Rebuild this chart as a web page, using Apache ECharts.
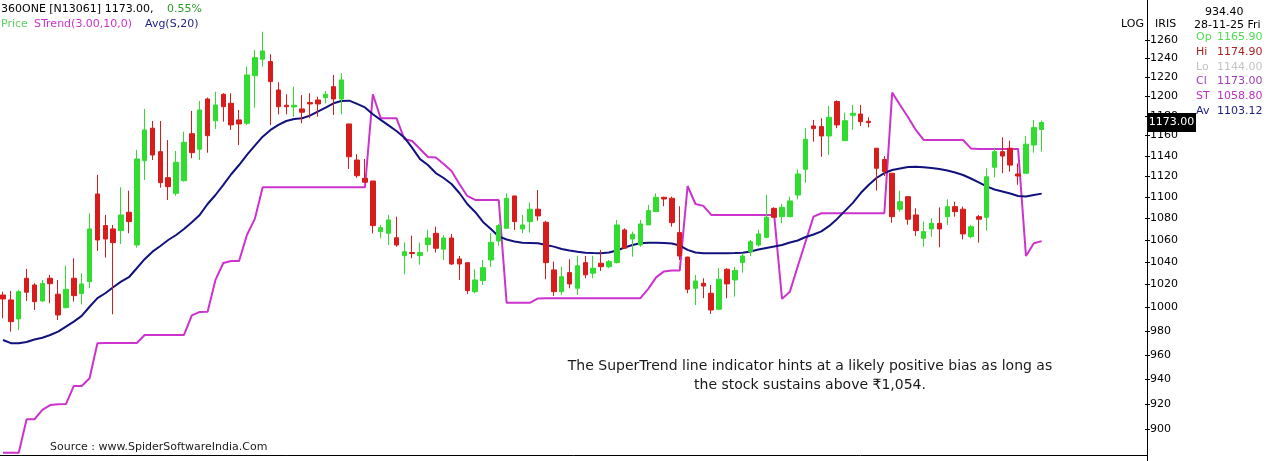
<!DOCTYPE html>
<html><head><meta charset="utf-8">
<script src="https://cdn.jsdelivr.net/npm/echarts@6/dist/echarts.min.js"></script>
<style>html,body{margin:0;padding:0;background:#fff}#c{width:1266px;height:461px}</style>
</head><body><div id="c"></div>
<script>
// ---- data ----
const opens = [1010.7,1006.4,990.0,1025.4,1019.5,1005.5,1025.4,1011.4,999.7,1025.4,
1011.9,1022.4,1102.8,1073.1,1070.0,1068.4,1085.5,1055.3,1134.9,1167.2,
1143.8,1118.4,1103.4,1115.5,1161.7,1146.2,1197.0,1174.8,1201.9,1192.6,
1175.6,1172.2,1221.4,1238.8,1236.3,1206.4,1190.6,1188.8,1186.8,1193.3,
1196.0,1198.4,1209.8,1197.0,1171.5,1135.6,1117.8,1115.2,1067.5,1066.0,
1061.9,1045.6,1048.4,1045.6,1055.6,1066.0,1051.5,1061.7,1042.6,1039.3,
1013.6,1023.3,1041.7,1058.9,1070.6,1100.9,1070.0,1076.8,1088.4,1076.2,
1032.8,1013.6,1030.4,1016.6,1039.3,1029.9,1038.8,1035.7,1039.3,1069.1,
1060.7,1055.3,1073.7,1086.1,1099.6,1098.7,1066.6,1044.3,1016.6,1021.0,
1012.2,998.3,1033.4,1023.9,1039.3,1049.2,1055.3,1062.3,1089.2,1081.4,
1081.4,1101.8,1126.5,1169.5,1168.8,1159.4,1194.3,1154.7,1180.3,1181.6,
1174.2,1147.2,1136.1,1122.7,1088.3,1100.2,1083.0,1061.4,1070.0,1075.2,
1081.4,1090.8,1088.4,1062.9,1081.4,1080.8,1128.5,1143.8,1147.2,1122.0,
1122.7,1150.4,1165.9];
const closes = [1007.2,987.7,1013.6,1013.1,1004.9,1020.9,1020.6,993.4,1015.7,1010.1,
1020.4,1070.0,1059.8,1060.7,1057.4,1083.0,1076.8,1136.6,1165.5,1140.5,
1113.6,1109.8,1133.4,1153.1,1142.8,1185.7,1159.7,1190.9,1189.1,1170.5,
1171.5,1222.1,1240.5,1247.7,1215.1,1189.1,1189.1,1190.6,1183.4,1191.9,
1191.9,1201.9,1197.0,1216.9,1138.8,1120.3,1114.0,1073.1,1071.2,1078.3,
1055.3,1049.2,1047.5,1048.4,1061.7,1052.3,1061.7,1038.1,1038.1,1014.5,
1023.9,1034.8,1057.7,1073.1,1098.7,1076.8,1073.7,1088.4,1082.1,1039.3,
1013.6,1026.8,1020.4,1036.5,1028.4,1034.3,1035.7,1040.2,1073.7,1052.3,
1065.1,1074.6,1087.0,1099.6,1098.0,1075.8,1045.3,1015.7,1023.0,1018.5,
997.7,1024.5,1020.4,1032.2,1045.3,1058.3,1065.4,1080.8,1080.8,1090.1,
1096.2,1122.0,1156.1,1166.8,1159.4,1178.3,1170.5,1174.8,1182.4,1173.8,
1172.8,1127.5,1124.2,1081.4,1095.5,1079.0,1068.4,1067.5,1075.2,1070.0,
1090.8,1086.1,1065.4,1072.1,1079.0,1119.3,1143.8,1139.5,1130.6,1120.0,
1151.2,1167.8,1173.0];
const lows = [990.6,979.2,980.6,1005.5,997.7,1004.9,1003.5,989.1,999.1,1004.9,
1002.6,1016.6,1049.9,1043.8,994.0,1056.2,1066.0,1052.9,1116.2,1135.6,
1108.8,1097.1,1101.1,1114.6,1137.3,1135.6,1142.8,1166.5,1173.8,1165.5,
1150.4,1170.5,1188.1,1230.7,1170.5,1181.3,1181.3,1178.9,1172.2,1177.3,
1178.9,1192.6,1180.6,1181.3,1126.8,1118.3,1113.9,1066.0,1061.4,1055.3,
1053.7,1029.0,1043.3,1037.5,1049.2,1048.5,1041.7,1037.2,1023.9,1011.6,
1012.2,1019.5,1035.5,1054.5,1070.6,1069.1,1066.0,1066.6,1077.7,1024.5,
1009.9,1010.7,1016.6,1010.7,1025.4,1025.4,1031.9,1034.3,1038.7,1052.3,
1044.7,1053.7,1073.7,1086.1,1091.2,1072.1,1041.7,1012.2,1002.0,1007.9,
994.3,997.7,1007.9,1009.3,1030.4,1045.3,1053.7,1061.4,1080.8,1075.2,
1080.8,1097.7,1113.6,1153.7,1138.8,1140.5,1167.2,1154.7,1165.5,1169.5,
1168.1,1106.0,1120.0,1075.8,1086.1,1073.9,1063.5,1053.7,1062.9,1053.2,
1073.7,1081.4,1060.4,1061.4,1057.4,1068.4,1118.7,1122.7,1124.2,1111.5,
1122.7,1142.8,1144.0];
const highs = [1013.6,1014.2,1015.1,1033.7,1021.0,1023.9,1028.4,1023.9,1036.6,1043.3,
1029.9,1084.6,1121.0,1083.0,1073.7,1109.2,1105.9,1145.5,1186.8,1174.5,
1174.5,1155.4,1144.5,1163.7,1184.7,1195.0,1198.5,1204.6,1203.0,1203.0,
1185.7,1231.0,1248.8,1268.6,1244.2,1214.5,1201.9,1209.8,1201.1,1203.0,
1199.4,1205.4,1222.1,1223.9,1171.5,1141.2,1136.6,1115.2,1073.7,1083.0,
1081.4,1057.7,1063.8,1057.4,1069.1,1072.1,1064.2,1065.4,1045.3,1039.3,
1033.4,1041.7,1066.0,1074.6,1103.4,1100.9,1083.0,1094.6,1106.6,1077.4,
1040.2,1035.7,1042.4,1045.5,1045.3,1045.5,1050.7,1041.7,1078.3,1070.6,
1067.5,1078.3,1092.4,1103.4,1100.2,1100.2,1091.2,1044.6,1028.4,1025.4,
1019.5,1034.3,1034.3,1035.7,1047.7,1059.8,1069.1,1101.8,1090.1,1093.3,
1100.2,1126.5,1167.2,1175.6,1177.3,1189.8,1195.6,1183.0,1190.9,1190.9,
1178.3,1147.2,1139.5,1122.7,1106.0,1100.9,1089.2,1076.8,1079.9,1090.1,
1097.7,1095.5,1090.8,1073.7,1083.0,1127.5,1147.2,1158.1,1154.7,1132.2,
1159.4,1175.6,1174.9];
const maValues = [972.2,969.5,969.5,970.5,972.6,974.1,976.4,979.2,983.4,987.7,
992.6,1000.5,1007.9,1012.2,1017.5,1022.4,1026.3,1034.3,1042.4,1049.2,
1054.4,1059.8,1064.4,1070.0,1076.2,1083.0,1093.3,1101.8,1111.4,1121.7,
1130.7,1140.6,1149.8,1158.7,1165.5,1170.5,1174.5,1176.6,1177.3,1179.9,
1184.0,1188.1,1192.6,1195.0,1195.3,1191.9,1188.3,1181.3,1175.6,1170.0,
1164.4,1157.9,1147.5,1136.5,1130.7,1122.9,1118.1,1112.3,1103.7,1093.3,
1085.8,1076.5,1070.0,1063.1,1060.3,1058.5,1057.4,1057.1,1056.8,1055.3,
1053.8,1051.7,1050.3,1049.2,1048.3,1048.0,1047.8,1048.5,1050.3,1053.0,
1055.3,1056.8,1057.4,1057.4,1057.1,1056.7,1054.8,1050.8,1048.5,1047.8,
1047.8,1047.8,1047.8,1048.0,1048.3,1049.4,1051.2,1052.6,1053.9,1055.3,
1057.6,1059.4,1062.6,1064.9,1067.7,1072.8,1079.3,1086.8,1094.3,1103.7,
1111.4,1118.1,1122.9,1125.8,1127.3,1128.8,1129.1,1128.5,1127.8,1126.8,
1125.4,1123.4,1121.0,1117.6,1113.8,1110.0,1107.1,1105.2,1103.3,1100.9,
1100.4,1101.8,1103.12];
const stValues = [882,882,882,907.9,907.9,915.2,919.1,919.7,919.9,934.4,
934.4,940.6,969.5,969.7,969.7,969.7,969.7,969.7,976.4,976.4,
976.4,976.4,976.4,976.4,993.0,996.0,996.2,1023.9,1039.0,1040.8,
1040.8,1064.4,1079.3,1109.2,1109.2,1109.2,1109.2,1109.2,1109.2,1109.2,
1109.2,1109.2,1109.2,1109.2,1109.2,1109.2,1109.2,1201.9,1177.3,1177.3,
1177.3,1156.4,1154.4,1146.5,1138.5,1138.0,1131.7,1124.9,1112.3,1100.9,
1097.1,1097.1,1097.1,1097.1,1004.0,1004.0,1004.0,1004.0,1007.7,1007.9,
1007.9,1007.9,1007.9,1007.9,1007.9,1007.9,1007.9,1007.9,1007.9,1007.9,
1007.9,1007.9,1016.0,1026.2,1031.5,1032.2,1032.2,1110.4,1093.3,1091.5,
1083.0,1083.0,1083.0,1083.0,1083.0,1083.0,1083.0,1083.0,1083.0,1007.3,
1013.6,1036.1,1058.5,1081.4,1084.6,1084.6,1084.6,1084.6,1084.6,1084.6,
1084.6,1084.6,1084.6,1203.6,1190.9,1178.6,1165.5,1155.4,1155.4,1155.4,
1155.4,1155.4,1155.4,1147.0,1146.5,1146.5,1146.5,1146.5,1146.5,1146.5,
1045.3,1056.8,1058.8];
const yTicks = [1260,1240,1220,1200,1180,1160,1140,1120,1100,1080,1060,1040,1020,1000,980,960,940,920,900];
const slotCount = 146; // trading-day slots on the x axis (last 13 empty)
const categories = Array.from({length: slotCount}, (_, i) => String(i + 1));
const lastClose = 1173.00;
const infoRows = [
  ['Op', '1165.90', '#4fdc4f'],
  ['Hi', '1174.90', '#b02222'],
  ['Lo', '1144.00', '#c4c4c4'],
  ['Cl', '1173.00', '#a03cb4'],
  ['ST', '1058.80', '#bb33bb'],
  ['Av', '1103.12', '#1e1e80']
];

const F = '"DejaVu Sans", sans-serif';
const chart = echarts.init(document.getElementById('c'), null, {renderer: 'canvas'});
const candleData = opens.map((o, i) => [o, closes[i], lows[i], highs[i]]);

chart.setOption({
  animation: false,
  backgroundColor: '#ffffff',
  grid: {left: 3, right: 122, top: 0, bottom: 6, containLabel: false},
  xAxis: {
    type: 'category', data: categories, boundaryGap: false,
    axisLine: {show: false}, axisTick: {show: false}, axisLabel: {show: false}, splitLine: {show: false}
  },
  yAxis: {
    type: 'log', logBase: 10, min: 880.3, max: 1303.8, position: 'right',
    axisLine: {show: false}, axisTick: {show: false}, axisLabel: {show: false}, splitLine: {show: false}
  },
  series: [
    {
      type: 'line', name: 'STrend', data: stValues, symbol: 'none', z: 2,
      lineStyle: {color: '#cc33cc', width: 2}, itemStyle: {color: '#cc33cc'}
    },
    {
      type: 'line', name: 'Avg', data: maValues, symbol: 'none', z: 2,
      lineStyle: {color: '#12127e', width: 2}, itemStyle: {color: '#12127e'}
    },
    {
      type: 'candlestick', name: 'Price', data: candleData, barWidth: 5, z: 3,
      itemStyle: {color: '#2fdc2f', color0: '#d81c1c', borderColor: '#2fdc2f', borderColor0: '#d81c1c', borderWidth: 1}
    }
  ]
});

const yOf = v => chart.convertToPixel({yAxisIndex: 0}, v);
const g = [];
const txt = (x, y, text, color, size, extra) => Object.assign({
  type: 'text', x: x, y: y, z: 10,
  style: Object.assign({text: text, fill: color, font: size + 'px ' + F, verticalAlign: 'middle', align: 'left'}, extra || {})
});
// frame lines
g.push({type: 'line', z: 10, shape: {x1: 1147.5, y1: 0, x2: 1147.5, y2: 461}, style: {stroke: '#000', lineWidth: 1}});
g.push({type: 'line', z: 10, shape: {x1: 0, y1: 455.5, x2: 1147.5, y2: 455.5}, style: {stroke: '#000', lineWidth: 1}});
// y ticks and labels (positions from the library's log scale)
yTicks.forEach(v => {
  const y = Math.round(yOf(v)) + 0.5;
  g.push({type: 'line', z: 10, shape: {x1: 1145, y1: y, x2: 1150, y2: y}, style: {stroke: '#000', lineWidth: 1}});
  g.push(txt(1150, y, String(v), '#000', 11));
});
// last price box
const yl = yOf(lastClose);
g.push({type: 'rect', z: 20, shape: {x: 1147, y: yl - 9.5, width: 49, height: 19}, style: {fill: '#000'}});
g.push(Object.assign(txt(1171.5, yl, lastClose.toFixed(2), '#fff', 11, {align: 'center'}), {z: 21}));
// header
g.push(txt(1, 9, '360ONE [N13061] 1173.00,', '#000', 11));
g.push(txt(167, 9, '0.55%', '#2f9a2f', 11));
g.push(txt(1, 24, 'Price', '#5fd05f', 11));
g.push(txt(34, 24, 'STrend(3.00,10,0)', '#cc33cc', 11));
g.push(txt(145, 24, 'Avg(S,20)', '#1e1e80', 11));
// right panel
g.push(txt(1121, 24, 'LOG', '#000', 11));
g.push(txt(1155, 24, 'IRIS', '#000', 11));
g.push(txt(1205, 12, '934.40', '#000', 11));
g.push(txt(1194, 25, '28-11-25 Fri', '#000', 11));
infoRows.forEach((r, i) => {
  const y = 37.5 + i * 14.7;
  g.push(txt(1196, y, r[0], r[2], 11));
  g.push(txt(1217, y, r[1], r[2], 11));
});
// annotation and source
g.push(txt(810, 366, 'The SuperTrend line indicator hints at a likely positive bias as long as', '#1a1a1a', 14, {align: 'center'}));
g.push(txt(810, 385, 'the stock sustains above \u20b91,054.', '#1a1a1a', 14, {align: 'center'}));
g.push(txt(50, 447, 'Source : www.SpiderSoftwareIndia.Com', '#1a1a1a', 11));
chart.setOption({graphic: g});
</script></body></html>
